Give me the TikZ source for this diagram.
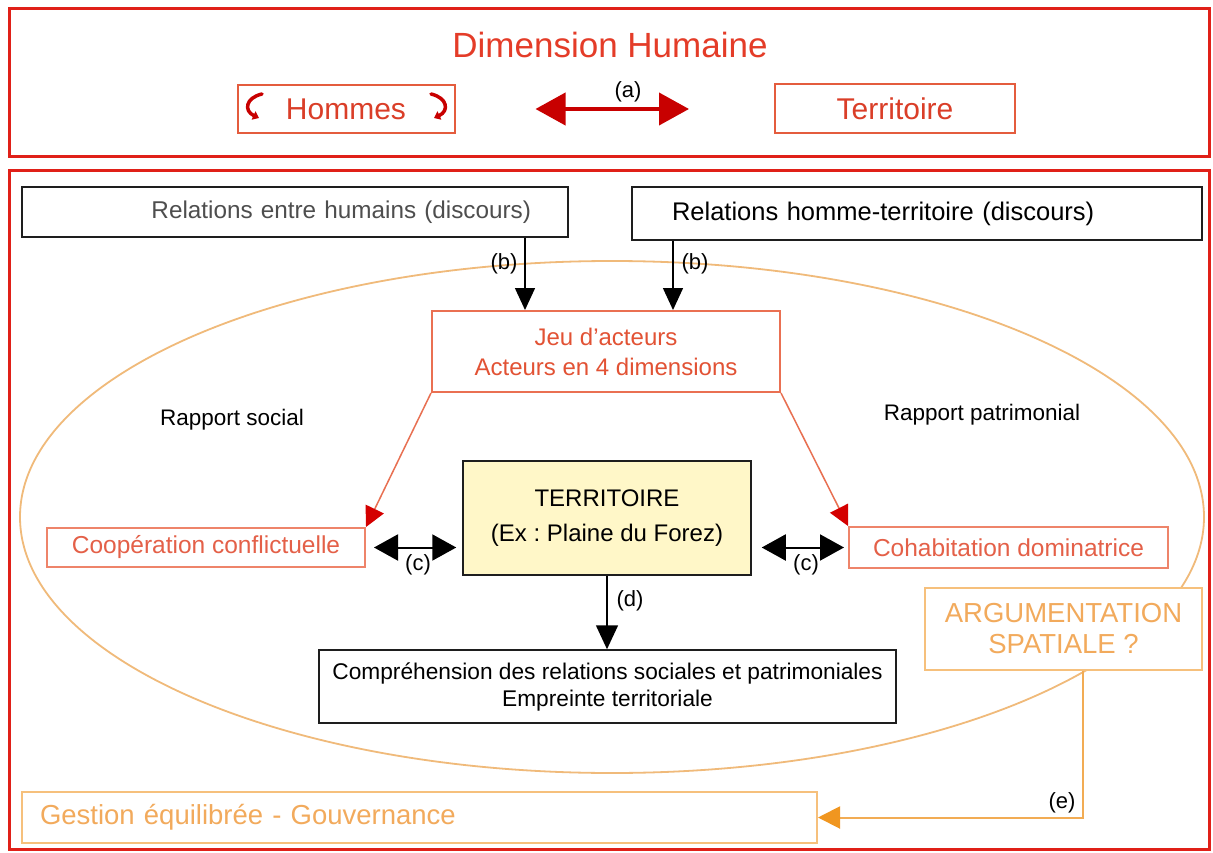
\documentclass[tikz,border=0pt]{standalone}
\usepackage{fontspec}
\setmainfont{Liberation Sans}
\frenchspacing
\usetikzlibrary{arrows.meta}
\definecolor{framered}{RGB}{224,32,24}
\definecolor{titlered}{RGB}{228,60,40}
\definecolor{boxred}{RGB}{228,92,62}
\definecolor{boxredtext}{RGB}{218,62,40}
\definecolor{darkred}{RGB}{200,0,0}
\definecolor{jeucol}{RGB}{234,112,82}
\definecolor{jeutext}{RGB}{226,82,52}
\definecolor{coopcol}{RGB}{238,132,106}
\definecolor{cooptext}{RGB}{228,96,72}
\definecolor{redhead}{RGB}{212,0,0}
\definecolor{redline}{RGB}{232,112,82}
\definecolor{ellcol}{RGB}{240,186,122}
\definecolor{argcol}{RGB}{246,192,124}
\definecolor{argtext}{RGB}{242,170,92}
\definecolor{eline}{RGB}{242,172,84}
\definecolor{ehead}{RGB}{240,150,32}
\definecolor{terrfill}{RGB}{255,247,200}
\definecolor{darkline}{RGB}{30,30,30}
\definecolor{graytext}{RGB}{78,78,78}
\tikzset{
  frame/.style={draw=framered, line width=3pt},
  topbox/.style={draw=boxred, line width=2pt, text=boxredtext, font=\fontsize{30}{34}\selectfont, inner sep=0pt},
  blackbox/.style={draw=darkline, line width=1.5pt, fill=white, inner sep=0pt},
  jeubox/.style={draw=jeucol, line width=2pt, fill=white, text=jeutext, align=center, font=\fontsize{24}{30}\selectfont, inner sep=0pt},
  coopbox/.style={draw=coopcol, line width=2pt, fill=white, text=cooptext, font=\fontsize{24.5}{28}\selectfont, inner sep=0pt},
  argbox/.style={draw=argcol, line width=2pt, fill=white, text=argtext, inner sep=0pt},
  lbl/.style={font=\fontsize{22}{26}\selectfont, text=black, inner sep=0pt},
  aarrow/.style={draw=darkred, line width=4pt, {Triangle[length=30pt,width=32pt]}-{Triangle[length=30pt,width=32pt]}},
  barrow/.style={draw=black, line width=1.5pt, -{Triangle[length=22pt,width=20pt]}},
  carrow/.style={draw=black, line width=2pt, {Triangle[length=24pt,width=26pt]}-{Triangle[length=24pt,width=26pt]}},
  darrow/.style={draw=black, line width=1.5pt, -{Triangle[length=24pt,width=22pt]}},
  redarrow/.style={draw=redline, line width=1.5pt, -{Triangle[length=20pt,width=20pt,color=redhead]}},
  earrow/.style={draw=eline, line width=2pt, -{Triangle[length=22pt,width=22pt,color=ehead]}},
  curl/.style={draw=darkred, line width=3.5pt, line cap=round, -{Triangle[length=6pt,width=9pt]}}
}
\begin{document}
\begin{tikzpicture}[x=1pt,y=-1pt]
\useasboundingbox[fill=white] (0,0) rectangle (1213,853);

% frames
\draw[frame] (9,9) rectangle (1209,157);
\draw[frame] (9,171) rectangle (1209,849);

% ellipse
\draw[draw=ellcol, line width=1.8pt] (612,517) ellipse [x radius=592, y radius=256];

% top section
\node[text=titlered, font=\fontsize{35}{40}\selectfont, inner sep=0pt] (title) at (610,45) {Dimension Humaine};
\node[topbox, minimum width=217pt, minimum height=48pt] (hommes) at (346,109) {Hommes};
\node[topbox, minimum width=240pt, minimum height=49pt] (terr0) at (895,109) {Territoire};
\draw[curl] (262,94) .. controls (245,98) and (244,111) .. (259,118);
\draw[curl] (431,94) .. controls (448,98) and (449,111) .. (434,118);
\draw[aarrow, shorten <=80pt, shorten >=85pt] (hommes.east) -- (terr0.west);
\node[lbl] (la) at (628,92) {(a)};

% relation boxes
\node[blackbox, minimum width=546pt, minimum height=50pt, text width=472pt, align=right, text=graytext,
      font=\fontsize{24.3}{28}\selectfont] (rel1) at (295,212) {Relations entre humains (discours)};
\node[blackbox, minimum width=570pt, minimum height=53pt, text width=490pt, align=left, text=black,
      font=\fontsize{25.5}{28}\selectfont] (rel2) at (917,213.5) {Relations homme-territoire (discours)};

% jeu d'acteurs
\node[jeubox, minimum width=348pt, minimum height=81pt] (jeu) at (606,351.5) {Jeu d'acteurs\\Acteurs en 4 dimensions};

\coordinate (bx1) at (525,0);
\coordinate (bx2) at (673,0);
\draw[barrow] (rel1.south -| bx1) -- (jeu.north -| bx1);
\draw[barrow] (rel2.south -| bx2) -- (jeu.north -| bx2);
\node[lbl] (lb1) at (504,264) {(b)};
\node[lbl] (lb2) at (695,264) {(b)};

% rapports
\node[lbl, font=\fontsize{22.5}{26}\selectfont] (rs) at (232,420) {Rapport social};
\node[lbl, font=\fontsize{22.5}{26}\selectfont] (rp) at (982,415) {Rapport patrimonial};

% side boxes
\node[coopbox, minimum width=318pt, minimum height=39pt] (coop) at (206,547.5) {Coopération conflictuelle};
\node[coopbox, minimum width=319pt, minimum height=41pt] (cohab) at (1008.5,547.5) {Cohabitation dominatrice};

% territoire
\node[blackbox, fill=terrfill, minimum width=288pt, minimum height=114pt, align=center,
      font=\fontsize{24}{35}\selectfont] (terr) at (607,518) {TERRITOIRE\\(Ex : Plaine du Forez)};

\draw[redarrow] (jeu.south west) -- (coop.north east);
\draw[redarrow] (jeu.south east) -- (cohab.north west);

\draw[carrow, shorten <=8pt, shorten >=6pt] (coop.east) -- (coop.east -| terr.west);
\draw[carrow, shorten <=10pt, shorten >=4pt] (cohab.west -| terr.east) -- (cohab.west);
\node[lbl] (lc1) at (418,565) {(c)};
\node[lbl] (lc2) at (806,565) {(c)};

% comprehension
\node[blackbox, minimum width=577pt, minimum height=73pt, align=center,
      font=\fontsize{22.7}{27}\selectfont] (comp) at (607.5,686.5) {Compréhension des relations sociales et patrimoniales\\Empreinte territoriale};
\coordinate (dx) at (607,0);
\draw[darrow] (terr.south -| dx) -- (comp.north -| dx);
\node[lbl] (ld) at (630,601) {(d)};

% argumentation
\node[argbox, minimum width=277pt, minimum height=82pt, align=center,
      font=\fontsize{27.5}{31}\selectfont] (arg) at (1063.5,629) {ARGUMENTATION\\SPATIALE ?};

% gestion
\node[argbox, minimum width=795pt, minimum height=51pt, text width=759pt, align=left,
      font=\fontsize{27.5}{31}\selectfont] (gest) at (419.5,817.5) {Gestion équilibrée - Gouvernance};

\coordinate (ex) at (1083,0);
\draw[earrow] (arg.south -| ex) |- (gest.east);
\node[lbl] (le) at (1062,803) {(e)};
\end{tikzpicture}
\end{document}
